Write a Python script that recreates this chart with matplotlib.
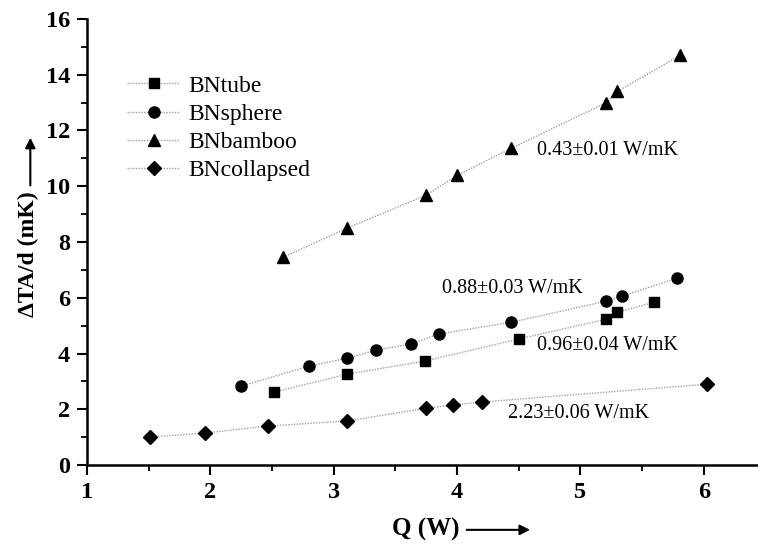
import numpy as np
import matplotlib
matplotlib.use("Agg")
import matplotlib.pyplot as plt

plt.rcParams['font.family'] = ['Liberation Serif', 'DejaVu Serif']
plt.rcParams['mathtext.fontset'] = 'stix'

# data
tube_q = [2.52, 3.11, 3.74, 4.50, 5.21, 5.30, 5.60]
tube_t = [2.62, 3.26, 3.73, 4.52, 5.23, 5.48, 5.84]

sphere_q = [2.25, 2.80, 3.11, 3.34, 3.63, 3.85, 4.44, 5.21, 5.34, 5.78]
sphere_t = [2.83, 3.55, 3.83, 4.12, 4.34, 4.70, 5.12, 5.88, 6.06, 6.70]

bamboo_q = [2.59, 3.11, 3.75, 4.00, 4.44, 5.21, 5.30, 5.81]
bamboo_t = [7.45, 8.50, 9.68, 10.39, 11.36, 13.00, 13.40, 14.70]

coll_q = [1.51, 1.96, 2.47, 3.11, 3.75, 3.97, 4.20, 6.03]
coll_t = [1.00, 1.15, 1.40, 1.58, 2.04, 2.15, 2.26, 2.90]

labels = ['BNtube', 'BNsphere', 'BNbamboo', 'BNcollapsed']
conductivities = ['0.96±0.04 W/mK', '0.88±0.03 W/mK', '0.43±0.01 W/mK', '2.23±0.06 W/mK']
label_pos = [(4.65, 4.30), (3.88, 6.34), (4.65, 11.29), (4.41, 1.86)]

fig = plt.figure(figsize=(7.58, 5.44), dpi=100)
ax = fig.add_axes([0.1148, 0.1452, 0.8852, 0.8199])

series = [(tube_q, tube_t, 's', 7), (sphere_q, sphere_t, 'o', 8),
          (bamboo_q, bamboo_t, '^', 8), (coll_q, coll_t, 'D', 7)]
for (q, t, m, ms), lab in zip(series, labels):
    ax.plot(q, t, marker=m, markersize=ms, color='#a0a0a0', markerfacecolor='black',
            markeredgecolor='black', linestyle=(0, (1, 1)), linewidth=1.0, label=lab)

for txt, (x, y) in zip(conductivities, label_pos):
    ax.text(x, y, txt, fontsize=14.5, va='center', ha='left')

ax.set_xlim(1, 6.44)
ax.set_ylim(0, 16)
ax.set_xticks(np.arange(1, 7, 1))
ax.set_xticks(np.arange(1.5, 6.5, 1), minor=True)
ax.set_yticks(np.arange(0, 17, 2))
ax.set_yticks(np.arange(1, 16, 2), minor=True)

for s in ['top', 'right']:
    ax.spines[s].set_visible(False)
for s in ['left', 'bottom']:
    ax.spines[s].set_linewidth(1.8)

ax.tick_params(which='major', direction='out', length=7, width=1.5, labelsize=17.5, pad=5)
ax.tick_params(which='minor', direction='out', length=4, width=1.3)
for lab in ax.get_xticklabels() + ax.get_yticklabels():
    lab.set_fontweight('bold')

leg = ax.legend(loc='upper left', bbox_to_anchor=(0.06, 0.874), frameon=False,
                fontsize=17, handlelength=2.25, handletextpad=0.35,
                labelspacing=0.28, borderpad=0, borderaxespad=0)

# axis labels with arrows
fig.text(0.517, 0.026, 'Q (W)', fontsize=18, fontweight='bold', ha='left', va='center')
ax.annotate('', xy=(0.703, 0.026), xytext=(0.612, 0.026), xycoords='figure fraction',
            arrowprops=dict(arrowstyle='-|>', color='black', lw=1.5, mutation_scale=15))
fig.text(0.037, 0.533, 'ΔTA/d (mK)', fontsize=17, fontweight='bold', rotation=90,
         ha='center', va='center')
ax.annotate('', xy=(0.040, 0.752), xytext=(0.040, 0.654), xycoords='figure fraction',
            arrowprops=dict(arrowstyle='-|>', color='black', lw=1.5, mutation_scale=15))

fig.savefig('out.png', dpi=100)
